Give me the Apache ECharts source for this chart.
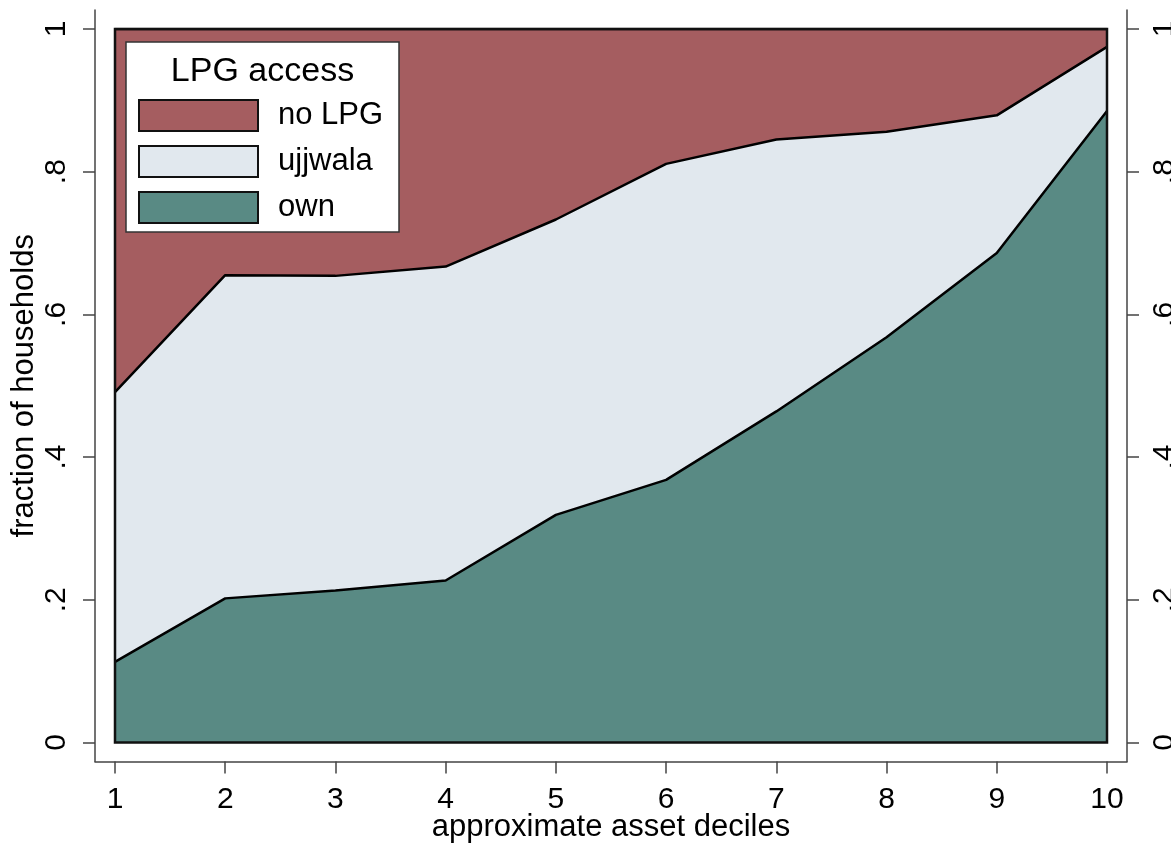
<!DOCTYPE html>
<html>
<head>
<meta charset="utf-8">
<script src="https://cdn.jsdelivr.net/npm/echarts@6/dist/echarts.min.js"></script>
<style>
html,body{margin:0;padding:0;background:#fff;}
#chart{width:1171px;height:846px;}
</style>
</head>
<body>
<div id="chart"></div>
<script>
// ---- data ----
const deciles = [1, 2, 3, 4, 5, 6, 7, 8, 9, 10];
const own     = [0.113, 0.202, 0.213, 0.227, 0.319, 0.368, 0.464, 0.568, 0.686, 0.885];
const ujjwala = [0.378, 0.453, 0.441, 0.440, 0.414, 0.443, 0.381, 0.288, 0.193, 0.090];
const noLPG   = [0.509, 0.345, 0.346, 0.333, 0.267, 0.189, 0.155, 0.144, 0.121, 0.025];
const yTicks = [0, 0.2, 0.4, 0.6, 0.8, 1];
const yTickLabels = ['0', '.2', '.4', '.6', '.8', '1'];
const seriesNames = ['own', 'ujjwala', 'no LPG'];
const legendOrder = ['no LPG', 'ujjwala', 'own'];
const legendTitle = 'LPG access';
const xTitle = 'approximate asset deciles';
const yTitle = 'fraction of households';

// ---- style / layout ----
const FONT = '"Liberation Sans", Arial, Helvetica, sans-serif';
const colors = { 'own': '#598A84', 'ujjwala': '#E1E8EE', 'no LPG': '#A55D60' };
const axisColor = '#444';

// outer (axis) frame and inner (data) region, in px
const frame = { left: 95, right: 44, top: 10, bottom: 84.5 };
const gapX = 20, gapY = 19;
const dataBox = { left: frame.left + gapX, right: frame.right + gapX, top: frame.top + gapY, bottom: frame.bottom + gapY };
const W = 1171, H = 846;
const xMin = deciles[0], xMax = deciles[deciles.length - 1];
const dataW = W - dataBox.left - dataBox.right;
const dataH = H - dataBox.top - dataBox.bottom;
const xPad = gapX * (xMax - xMin) / dataW;
const yPad = gapY * 1 / dataH;

const valuesByName = { 'own': own, 'ujjwala': ujjwala, 'no LPG': noLPG };

const chart = echarts.init(document.getElementById('chart'), null, { renderer: 'canvas' });

const axisLabelY = {
  rotate: 90, fontSize: 30, color: '#000', fontFamily: FONT, margin: 23,
  customValues: yTicks,
  formatter: v => { const i = yTicks.findIndex(t => Math.abs(t - v) < 1e-9); return i >= 0 ? yTickLabels[i] : ''; }
};
const axLine = { show: true, onZero: false, lineStyle: { color: axisColor, width: 1.5 } };

const series = seriesNames.map((name, k) => {
  const s = {
    name: name,
    type: 'line',
    xAxisIndex: 1,
    yAxisIndex: 2,
    stack: 'total',
    data: valuesByName[name],
    symbol: 'none',
    smooth: false,
    itemStyle: { color: colors[name] },
    lineStyle: { color: '#000', width: 2.5 },
    areaStyle: { color: colors[name], opacity: 1 },
    emphasis: { disabled: true },
    // lower layers drawn on top so each boundary line is fully visible
    z: 10 - k
  };
  if (k === 0) {
    s.markArea = {
      silent: true,
      z: 20,
      itemStyle: { color: 'rgba(0,0,0,0)', borderColor: '#111', borderWidth: 2.5 },
      data: [[{ coord: [0, 0] }, { coord: [deciles.length - 1, 1] }]]
    };
  }
  return s;
});

const gridBase = { containLabel: false, outerBoundsMode: 'none' };

const option = {
  animation: false,
  backgroundColor: '#fff',
  grid: [
    Object.assign({}, gridBase, frame),
    Object.assign({}, gridBase, dataBox)
  ],
  xAxis: [
    {
      gridIndex: 0,
      type: 'value',
      min: xMin - xPad,
      max: xMax + xPad,
      splitLine: { show: false },
      axisLine: axLine,
      axisTick: { show: true, length: 12, lineStyle: { color: axisColor, width: 1.5 }, customValues: deciles },
      axisLabel: { fontSize: 30, color: '#000', fontFamily: FONT, margin: 23, customValues: deciles },
      name: xTitle,
      nameLocation: 'middle',
      nameGap: 50,
      nameMoveOverlap: false,
      nameTextStyle: { fontSize: 31, color: '#000', fontFamily: FONT }
    },
    {
      gridIndex: 1,
      type: 'category',
      data: deciles.map(String),
      boundaryGap: false,
      show: false
    }
  ],
  yAxis: [
    {
      gridIndex: 0,
      type: 'value', position: 'left',
      min: -yPad, max: 1 + yPad,
      splitLine: { show: false },
      axisLine: axLine,
      axisTick: { show: true, length: 12, lineStyle: { color: axisColor, width: 1.5 }, customValues: yTicks },
      axisLabel: axisLabelY,
      name: yTitle,
      nameLocation: 'middle',
      nameGap: 55,
      nameMoveOverlap: false,
      nameTextStyle: { fontSize: 31, color: '#000', fontFamily: FONT }
    },
    {
      gridIndex: 0,
      type: 'value', position: 'right',
      min: -yPad, max: 1 + yPad,
      splitLine: { show: false },
      axisLine: axLine,
      axisTick: { show: true, length: 12, lineStyle: { color: axisColor, width: 1.5 }, customValues: yTicks },
      axisLabel: axisLabelY
    },
    {
      gridIndex: 1,
      type: 'value',
      min: 0, max: 1,
      show: false,
      splitLine: { show: false }
    }
  ],
  legend: {
    orient: 'vertical',
    left: 138, top: 99,
    padding: 0,
    z: 30,
    itemWidth: 119, itemHeight: 31, itemGap: 13,
    icon: 'rect',
    selectedMode: false,
    textStyle: { fontSize: 31, color: '#000', fontFamily: FONT, padding: [0, 0, 0, 15] },
    data: legendOrder.map(n => ({
      name: n,
      icon: 'rect',
      itemStyle: { color: colors[n], borderColor: '#111', borderWidth: 2 }
    }))
  },
  graphic: [
    {
      type: 'rect', z: 25, silent: true,
      shape: { x: 126, y: 42, width: 273, height: 190 },
      style: { fill: '#fff', stroke: '#333', lineWidth: 1.5 }
    },
    {
      type: 'text', z: 26, silent: true,
      x: 262.5, y: 72,
      style: { text: legendTitle, fontSize: 34, fontFamily: FONT, fill: '#000', textAlign: 'center', textVerticalAlign: 'middle' }
    }
  ],
  series: series
};

chart.setOption(option);
</script>
</body>
</html>
